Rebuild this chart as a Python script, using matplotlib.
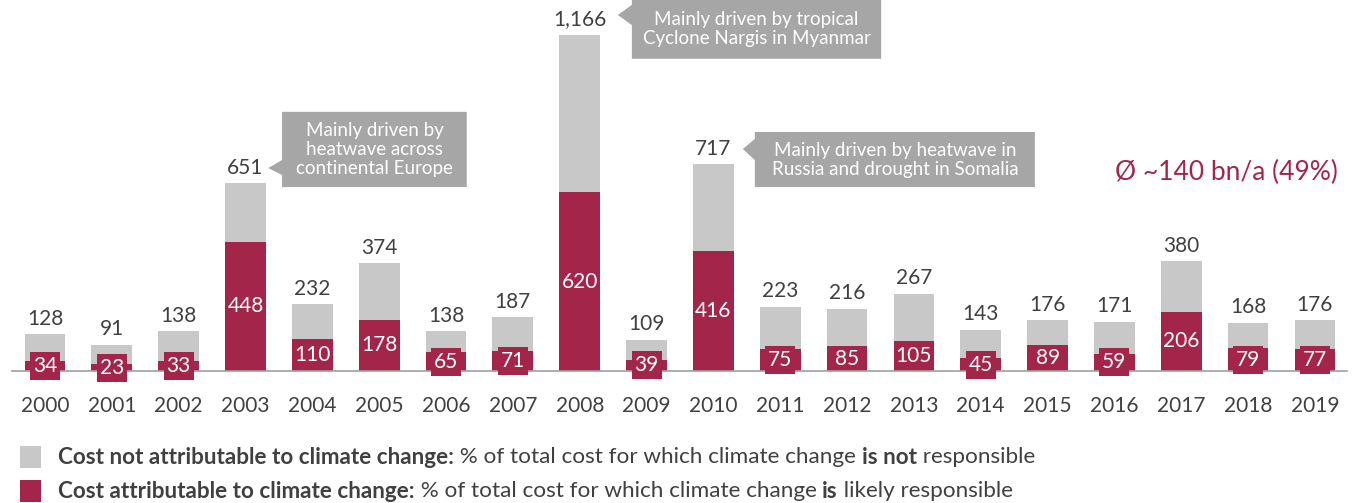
import numpy as np
import matplotlib.pyplot as plt
from matplotlib.patches import Polygon, Rectangle

plt.rcParams['font.family'] = ['Lato', 'DejaVu Sans']

# ---------------------------------------------
# Datos: coste total y parte atribuible (bn)
# ---------------------------------------------
years = [str(y) for y in range(2000, 2020)]
total = [128, 91, 138, 651, 232, 374, 138, 187, 1166, 109,
         717, 223, 216, 267, 143, 176, 171, 380, 168, 176]
attributable = [34, 23, 33, 448, 110, 178, 65, 71, 620, 39,
                416, 75, 85, 105, 45, 89, 59, 206, 79, 77]
not_attributable = [t - a for t, a in zip(total, attributable)]

avg_label = "Ø ~140 bn/a (49%)"

callouts = [
    # (texto, caja x0, x1, y0, y1, punta x, y, base y0, y1)
    ("Mainly driven by\nheatwave across\ncontinental Europe",
     3.546, 6.31, 638, 899, 3.34, 704, 680, 732),
    ("Mainly driven by tropical\nCyclone Nargis in Myanmar",
     8.78, 12.51, 1083, 1290, 8.57, 1235, 1200, 1270),
    ("Mainly driven by heatwave in\nRussia and drought in Somalia",
     10.62, 14.81, 638, 829, 10.44, 770, 732, 805),
]

RED = "#a3264a"
GRAY = "#c8c8c8"
BOX = "#a6a6a6"
TXT = "#404040"

fig = plt.figure(figsize=(13.67, 5.03), dpi=100)
ax = fig.add_axes([12 / 1367, (503 - 371) / 503, 1335 / 1367, 371 / 503])

x = np.arange(len(years))
w = 0.61
ax.bar(x, attributable, w, color=RED, zorder=2)
ax.bar(x, not_attributable, w, bottom=attributable, color=GRAY, zorder=2)

ax.set_xlim(-0.494, 19.48)
ax.set_ylim(0, 1287)

# alto de la caja de etiqueta en unidades de datos (~28 px)
box_h = 28 * 1287 / 371
box_w = 0.45
for i in range(len(years)):
    ax.annotate(f"{total[i]:,}", (x[i], total[i]), xytext=(0, 4),
                textcoords="offset points", ha="center", va="bottom",
                fontsize=15, color=TXT)
    if attributable[i] < 80:
        ax.add_patch(Rectangle((x[i] - box_w / 2, attributable[i] / 2 - box_h / 2),
                               box_w, box_h, fc=RED, ec="none", zorder=3,
                               clip_on=False))
    ax.text(x[i], attributable[i] / 2, str(attributable[i]), ha="center",
            va="center", fontsize=15, color="white", zorder=4,
            clip_on=False)

for txt, bx0, bx1, by0, by1, tx, ty, b0, b1 in callouts:
    pts = [(tx, ty), (bx0, b1), (bx0, by1), (bx1, by1), (bx1, by0),
           (bx0, by0), (bx0, b0)]
    ax.add_patch(Polygon(pts, closed=True, fc=BOX, ec="none",
                         clip_on=False, zorder=4))
    ax.text((bx0 + bx1) / 2, (by0 + by1) / 2, txt, ha="center", va="center",
            fontsize=13.5, color="white", linespacing=1.15, zorder=5)

ax.text(17.68, 690, avg_label, ha="center", va="center", fontsize=19,
        color=RED)

for s in ["top", "right", "left"]:
    ax.spines[s].set_visible(False)
ax.spines["bottom"].set_color("#a0a0a0")
ax.spines["bottom"].set_linewidth(1.2)
ax.set_yticks([])
ax.set_xticks(x)
ax.set_xticklabels(years, fontsize=15, color=TXT)
ax.tick_params(axis="x", length=0, pad=18)

# leyenda con partes en negrita
renderer = fig.canvas.get_renderer()
legend_rows = [
    (GRAY, 457, [("Cost not attributable to climate change:", "bold"),
                 (" % of total cost for which climate change ", "normal"),
                 ("is not", "bold"), (" responsible", "normal")]),
    (RED, 491, [("Cost attributable to climate change:", "bold"),
                (" % of total cost for which climate change ", "normal"),
                ("is", "bold"), (" likely responsible", "normal")]),
]
for color, ypx, parts in legend_rows:
    fig.patches.append(Rectangle((20 / 1367, 1 - (ypx + 11) / 503),
                                 21 / 1367, 22 / 503, fc=color, ec="none",
                                 transform=fig.transFigure, figure=fig))
    xpos = 58 / 1367
    for s, weight in parts:
        t = fig.text(xpos, 1 - ypx / 503, s, ha="left", va="center",
                     fontsize=16.2, fontweight=weight, color=TXT)
        bb = t.get_window_extent(renderer)
        xpos = bb.x1 / fig.bbox.width

fig.savefig("out.png", dpi=100)
